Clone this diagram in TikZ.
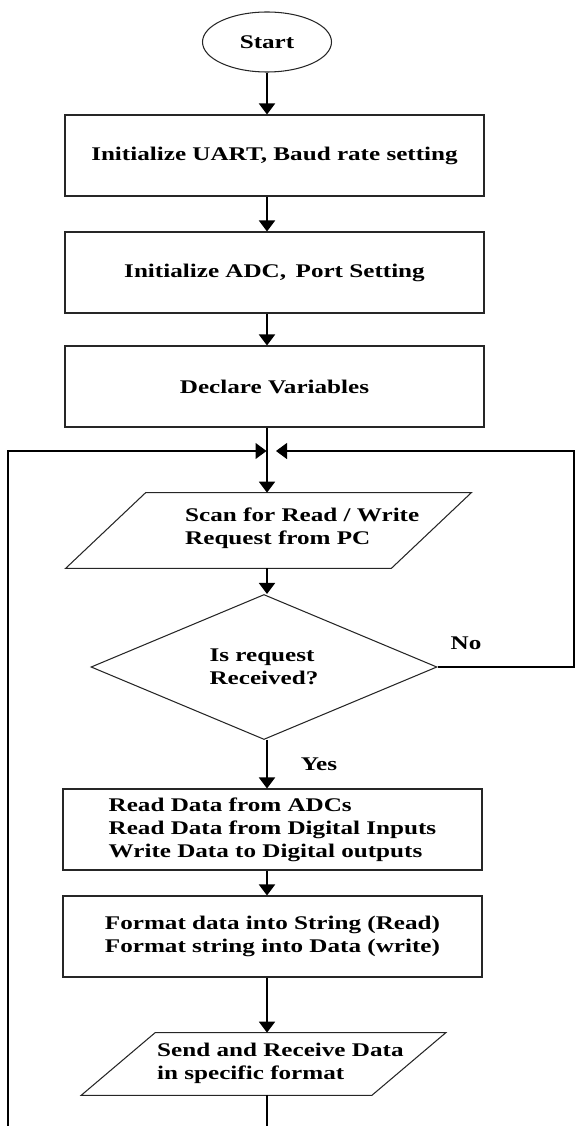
\documentclass[tikz,border=0pt]{standalone}
\usepackage{fontspec}
\setmainfont{Liberation Serif}[FakeStretch=1.3]
\usetikzlibrary{arrows.meta,shapes.geometric}

\begin{document}
\begin{tikzpicture}[font=\fontsize{11}{13}\selectfont\bfseries,
    >={Triangle[width=0.32cm,length=0.22cm]},
    proc/.style={draw=black!85,line width=0.6pt,minimum width=8.38cm,minimum height=1.62cm,align=left},
    io/.style={inner sep=0pt},
    slant/.style={draw=black!85,line width=0.6pt},
    flow/.style={->,line width=1.1pt}]
            \useasboundingbox (0,0) rectangle (11.5,-22.52);
            \node[draw=black!85,line width=0.6pt,ellipse,minimum width=2.58cm,minimum height=1.2cm] (start) at (5.34,-0.84) {Start};
            \node[proc] (uart) at (5.49,-3.11) {Initialize UART, Baud rate setting};
            \node[proc] (adc) at (5.49,-5.45) {Initialize ADC,\, Port Setting};
            \node[proc] (decl) at (5.49,-7.73) {Declare Variables};
            \node[io,minimum width=6.5cm,minimum height=1.5cm] (scan) at (5.37,-10.61) {};
            \draw[slant] ([xshift=0.8cm]scan.north west) -- ([xshift=0.8cm]scan.north east) -- ([xshift=-0.8cm]scan.south east) -- ([xshift=-0.8cm]scan.south west) -- cycle;
            \node[anchor=west,align=left] (scantxt) at (3.58,-10.56) {Scan for Read / Write\\Request from PC};
            \node[draw=black!85,line width=0.6pt,diamond,minimum width=6.92cm,minimum height=2.9cm,inner sep=0pt,align=left] (req) at (5.28,-13.34) {Is request\\Received?};
            \node[proc] (rw) at (5.45,-16.59) {Read Data from ADCs\\Read Data from Digital Inputs\\Write Data to Digital outputs};
            \node[proc] (fmt) at (5.45,-18.73) {Format data into String (Read)\\Format string into Data (write)};
            \node[io,minimum width=5.8cm,minimum height=1.24cm] (send) at (5.27,-21.28) {};
            \draw[slant] ([xshift=0.74cm]send.north west) -- ([xshift=0.74cm]send.north east) -- ([xshift=-0.74cm]send.south east) -- ([xshift=-0.74cm]send.south west) -- cycle;
            \node[anchor=west,align=left] (sendtxt) at (3.02,-21.27) {Send and Receive Data\\in specific format};
            \node (yes) at (6.38,-15.28) {Yes};
            \node (no) at (9.32,-12.86) {No};
            \coordinate (inl) at (5.33,-9.02);
            \coordinate (inr) at (5.52,-9.02);
            \coordinate (rtop) at (11.48,-9.02);
            \coordinate (lbot) at (0.16,-22.52);
            % main path
            \draw[flow] (start.south) -- (start.south |- uart.north);
            \draw[flow] (uart.south -| start) -- (adc.north -| start);
            \draw[flow] (adc.south -| start) -- (decl.north -| start);
            \draw[flow] (decl.south -| start) -- (scan.north -| start);
            \draw[flow] (scan.south -| start) -- (req.north -| start);
            \draw[flow] (req.south -| start) -- (rw.north -| start);
            \draw[flow] (rw.south -| start) -- (fmt.north -| start);
            \draw[flow] (fmt.south -| start) -- (send.north -| start);
            \draw[line width=1.1pt] (send.south -| start) -- (start |- lbot);
            % loops back
            \draw[line width=0.6pt,->] (lbot) |- (inl);
            \draw[line width=0.6pt,->] (req.east) -- (req.east -| rtop) -- (rtop) -- (inr);
        \end{tikzpicture}
\end{document}
